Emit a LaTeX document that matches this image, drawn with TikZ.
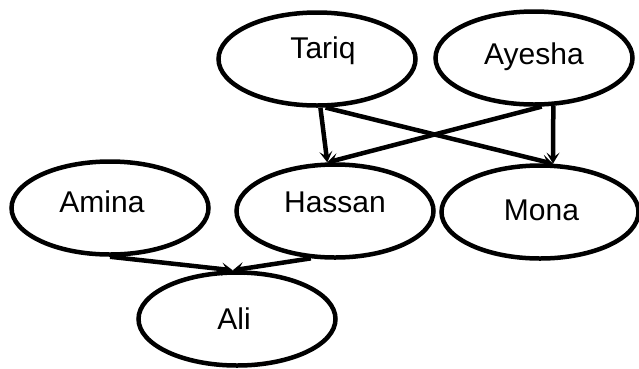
\documentclass[tikz,border=0pt]{standalone}
\usepackage{fontspec}
\setmainfont{Liberation Sans}
\usetikzlibrary{arrows.meta,shapes.geometric}
\tikzset{
  kinnode/.style={ellipse, draw=black, line width=4.5pt, fill=white, inner sep=0pt,
                  minimum width=197pt, minimum height=93pt,
                  font=\fontsize{30}{35}\selectfont, text height=21.5pt, text depth=0pt},
  kinnudge/.style 2 args={execute at begin node={\hspace*{#1}}, text depth=#2},
  kinedge/.style={-{Stealth[length=11pt,width=13pt,inset=5pt]}, draw=black, line width=4.5pt},
}

\begin{document}
\begin{tikzpicture}[x=1pt,y=-1pt]
  \useasboundingbox (0,0) rectangle (639,368);
  \node[kinnode,kinnudge={12pt}{22pt}] (tariq)  at (317,59)  {Tariq};
  \node[kinnode,kinnudge={0pt}{8pt}]   (ayesha) at (534,58)  {Ayesha};
  \node[kinnode,kinnudge={-16pt}{12pt}] (amina) at (110,208) {Amina};
  \node[kinnode,kinnudge={0pt}{18pt}]  (hassan) at (335,211) {Hassan};
  \node[kinnode,kinnudge={3pt}{5pt}]   (mona)   at (540,212) {Mona};
  \node[kinnode,kinnudge={-6pt}{0pt}]  (ali)    at (237,319) {Ali};

  \draw[kinedge] (tariq.-86)   -- (hassan.99);
  \draw[kinedge] (tariq.-80)   -- (mona.75);
  \draw[kinedge] (ayesha.-81)  -- (hassan.99);
  \draw[kinedge] (ayesha.-68)  -- (mona.75);
  \draw[kinedge] (amina.south) -- (ali.95);
  \draw[kinedge] (hassan.-117) -- (ali.95);
\end{tikzpicture}
\end{document}
